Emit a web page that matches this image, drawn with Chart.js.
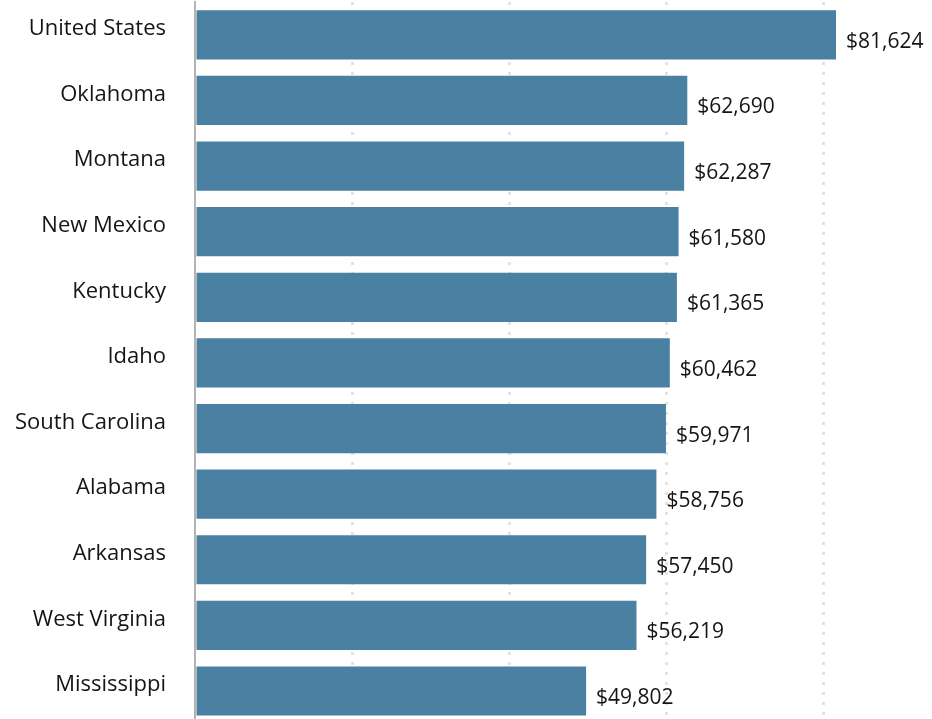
<!DOCTYPE html>
<html>
<head>
<meta charset="utf-8">
<script src="https://cdn.jsdelivr.net/npm/chart.js@4.4.1/dist/chart.umd.min.js"></script>
<style>
  html, body { margin: 0; padding: 0; background: #fff; overflow: hidden; }
  #wrap { width: 932px; height: 719px; overflow: hidden; }
  #box { width: 932px; height: 724px; position: relative; }
</style>
</head>
<body>
<div id="wrap"><div id="box"><canvas id="chart"></canvas></div></div>
<script>
const states = ['United States', 'Oklahoma', 'Montana', 'New Mexico', 'Kentucky', 'Idaho',
  'South Carolina', 'Alabama', 'Arkansas', 'West Virginia', 'Mississippi'];
const income = [81624, 62690, 62287, 61580, 61365, 60462, 59971, 58756, 57450, 56219, 49802];
const gridValues = [0, 20000, 40000, 60000, 80000];

const FONT = '"Open Sans", Lato, sans-serif';

// dollar labels to the right of each bar
const valueLabels = {
  id: 'valueLabels',
  afterDatasetsDraw(chart) {
    const ctx = chart.ctx;
    const meta = chart.getDatasetMeta(0);
    ctx.save();
    ctx.font = '21px ' + FONT;
    ctx.fillStyle = '#151515';
    ctx.textAlign = 'left';
    ctx.textBaseline = 'middle';
    meta.data.forEach((bar, i) => {
      ctx.fillText('$' + income[i].toLocaleString('en-US'), bar.x + 10, bar.y + 7);
    });
    ctx.restore();
  }
};

new Chart(document.getElementById('chart'), {
  type: 'bar',
  data: {
    labels: states,
    datasets: [{
      data: income,
      backgroundColor: '#4a80a1',
      barPercentage: 0.75,
      categoryPercentage: 1
    }]
  },
  options: {
    indexAxis: 'y',
    responsive: true,
    maintainAspectRatio: false,
    animation: false,
    layout: { padding: { top: 2, right: 0, bottom: 0, left: 0 } },
    plugins: { legend: { display: false }, tooltip: { enabled: false } },
    scales: {
      x: {
        min: 0,
        max: 93850,
        afterBuildTicks: s => { s.ticks = gridValues.map(v => ({ value: v })); },
        ticks: { display: false },
        border: { display: false, dash: [3, 7] },
        grid: {
          drawTicks: false,
          lineWidth: 3,
          color: c => (c.tick && c.tick.value === 0) ? 'rgba(0,0,0,0)' : '#e3e3e3'
        }
      },
      y: {
        afterFit: s => { s.width = 195; },
        border: { display: true, color: '#b3b3b3', width: 2 },
        // invisible tick marks give the gap between labels and axis
        grid: { drawOnChartArea: false, drawTicks: true, tickLength: 42, tickColor: 'rgba(0,0,0,0)' },
        ticks: {
          padding: -13,
          labelOffset: -6,
          color: '#151515',
          font: { family: FONT, size: 22 }
        }
      }
    }
  },
  plugins: [valueLabels]
});
</script>
</body>
</html>
